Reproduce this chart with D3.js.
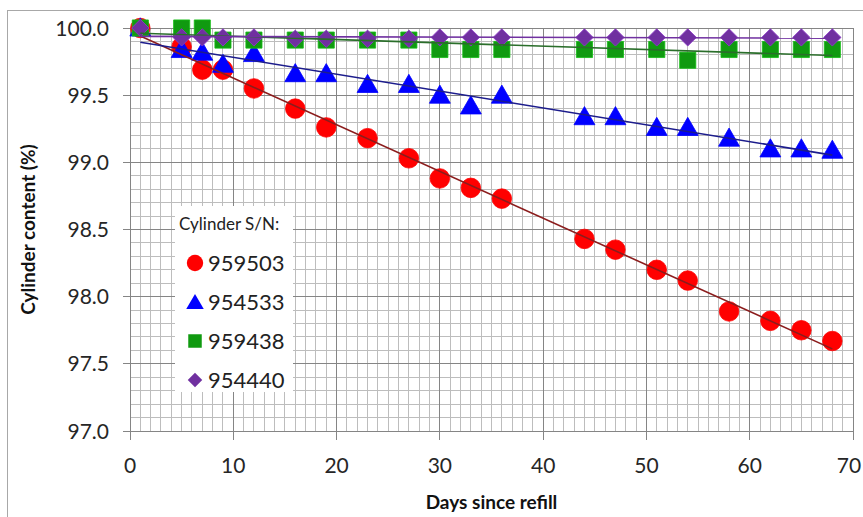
<!DOCTYPE html>
<html>
<head>
<meta charset="utf-8">
<script src="https://cdn.jsdelivr.net/npm/d3@7"></script>
<style>
  html, body { margin: 0; padding: 0; background: #fff; }
  svg { display: block; font-family: Lato, "Open Sans", sans-serif; }
</style>
</head>
<body>
<div id="chart"></div>
<script>
// Days since refill for each reading
const days959503 = [1, 5, 7, 9, 12, 16, 19, 23, 27, 30, 33, 36, 44, 47, 51, 54, 58, 62, 65, 68];
const vals959503 = [100.0, 99.86, 99.69, 99.69, 99.55, 99.40, 99.26, 99.18, 99.03, 98.88, 98.81, 98.73,
                    98.43, 98.35, 98.20, 98.12, 97.89, 97.82, 97.75, 97.67];

const days954533 = [1, 5, 7, 9, 12, 16, 19, 23, 27, 30, 33, 36, 44, 47, 51, 54, 58, 62, 65, 68];
const vals954533 = [100.0, 99.84, 99.82, 99.73, 99.81, 99.66, 99.66, 99.58, 99.58, 99.50, 99.42, 99.50,
                    99.34, 99.34, 99.26, 99.26, 99.18, 99.10, 99.10, 99.09];

const days959438 = [1, 5, 7, 9, 12, 16, 19, 23, 27, 30, 33, 36, 44, 47, 51, 54, 58, 62, 65, 68];
const vals959438 = [100.0, 100.0, 100.0, 99.91, 99.91, 99.91, 99.91, 99.91, 99.91, 99.84, 99.84, 99.84,
                    99.84, 99.84, 99.84, 99.76, 99.84, 99.84, 99.84, 99.84];

const days954440 = [1, 5, 7, 9, 12, 16, 19, 23, 27, 30, 33, 36, 44, 47, 51, 54, 58, 62, 65, 68];
const vals954440 = [100.0, 99.93, 99.93, 99.93, 99.93, 99.92, 99.92, 99.92, 99.92, 99.93, 99.93, 99.93,
                    99.93, 99.93, 99.93, 99.93, 99.93, 99.93, 99.93, 99.93];

const xTicks = [0, 10, 20, 30, 40, 50, 60, 70];
const yTicks = [97.0, 97.5, 98.0, 98.5, 99.0, 99.5, 100.0];

const series = [
  { name: "959503", days: days959503, vals: vals959503, shape: "circle",   fill: "#ff0000", line: "#8b1c1c" },
  { name: "954533", days: days954533, vals: vals954533, shape: "triangle", fill: "#0000ff", line: "#1c1c8c" },
  { name: "959438", days: days959438, vals: vals959438, shape: "square",   fill: "#109a10", line: "#2a6e2a" },
  { name: "954440", days: days954440, vals: vals954440, shape: "diamond",  fill: "#7030a0", line: "#7030a0" }
];

const W = 863, H = 517;
const plot = { left: 130, right: 853, top: 28, bottom: 431 };

const svg = d3.select("#chart").append("svg")
  .attr("width", W).attr("height", H);

// chart frame (only top/left visible)
svg.append("rect")
  .attr("x", 7.5).attr("y", 10.5)
  .attr("width", 900).attr("height", 600)
  .attr("fill", "#fff")
  .attr("stroke", "#a8a8a8");

const x = d3.scaleLinear().domain([0, 70]).range([plot.left, plot.right]);
const y = d3.scaleLinear().domain([97, 100]).range([plot.bottom, plot.top]);

// ---- grid ----
const grid = svg.append("g").attr("shape-rendering", "crispEdges");

grid.selectAll("line.minor-x")
  .data(d3.range(0, 71, 1).filter(d => d % 10 !== 0))
  .join("line")
  .attr("x1", d => x(d)).attr("x2", d => x(d))
  .attr("y1", plot.top).attr("y2", plot.bottom)
  .attr("stroke", "#bdbdbd");

grid.selectAll("line.minor-y")
  .data(d3.range(0, 31, 1).filter(d => d % 5 !== 0).map(d => 97 + d / 10))
  .join("line")
  .attr("x1", plot.left).attr("x2", plot.right)
  .attr("y1", d => y(d)).attr("y2", d => y(d))
  .attr("stroke", "#bdbdbd");

grid.selectAll("line.major-x")
  .data(xTicks)
  .join("line")
  .attr("x1", d => x(d)).attr("x2", d => x(d))
  .attr("y1", plot.top).attr("y2", plot.bottom + 9)
  .attr("stroke", "#858585");

grid.selectAll("line.major-y")
  .data(yTicks)
  .join("line")
  .attr("x1", plot.left - 7).attr("x2", plot.right)
  .attr("y1", d => y(d)).attr("y2", d => y(d))
  .attr("stroke", "#858585");

// ---- tick labels ----
svg.append("g").selectAll("text")
  .data(yTicks)
  .join("text")
  .attr("x", 109)
  .attr("y", d => y(d))
  .attr("dy", "0.36em")
  .attr("text-anchor", "end")
  .attr("font-size", 21)
  .attr("fill", "#262626")
  .text(d => d3.format(".1f")(d));

svg.append("g").selectAll("text")
  .data(xTicks)
  .join("text")
  .attr("x", d => Math.min(x(d), 849))
  .attr("y", 465)
  .attr("dy", "0.36em")
  .attr("text-anchor", "middle")
  .attr("font-size", 21)
  .attr("fill", "#262626")
  .text(d => d);

// axis titles
svg.append("text")
  .attr("x", (plot.left + plot.right) / 2)
  .attr("y", 509)
  .attr("text-anchor", "middle")
  .attr("font-size", 19)
  .attr("font-weight", "bold")
  .attr("fill", "#111")
  .text("Days since refill");

svg.append("text")
  .attr("transform", `translate(35, ${(plot.top + plot.bottom) / 2}) rotate(-90)`)
  .attr("text-anchor", "middle")
  .attr("font-size", 19)
  .attr("font-weight", "bold")
  .attr("fill", "#111")
  .text("Cylinder content (%)");

// ---- markers ----
const symbolType = {
  circle: d3.symbolCircle,
  triangle: d3.symbolTriangle,
  square: d3.symbolSquare,
  diamond: d3.symbolSquare // rotated 45deg below
};
const symbolSize = { circle: 300, triangle: 190, square: 260, diamond: 150 };

function symbolPath(shape, scale = 1) {
  return d3.symbol().type(symbolType[shape]).size(symbolSize[shape] * scale)();
}

function symbolTransform(shape, px, py) {
  if (shape === "triangle") return `translate(${px},${py + 2})`;
  if (shape === "diamond") return `translate(${px},${py}) rotate(45)`;
  return `translate(${px},${py})`;
}

const markerLayer = svg.append("g");
series.forEach(s => {
  const pts = s.days.map((d, i) => ({ d, v: s.vals[i] }));
  markerLayer.append("g").selectAll("path")
    .data(pts)
    .join("path")
    .attr("transform", p => symbolTransform(s.shape, x(p.d), y(p.v)))
    .attr("d", symbolPath(s.shape))
    .attr("fill", s.fill)
    .attr("stroke", d3.color(s.fill).brighter(0.6))
    .attr("stroke-width", 0.8);
});

// ---- linear trendlines (least squares, like Excel) ----
function linReg(xs, ys) {
  const mx = d3.mean(xs), my = d3.mean(ys);
  const sxy = d3.sum(xs, (v, i) => (v - mx) * (ys[i] - my));
  const sxx = d3.sum(xs, v => (v - mx) * (v - mx));
  const b = sxy / sxx;
  return { a: my - b * mx, b };
}

const trendLayer = svg.append("g");
series.forEach(s => {
  const r = linReg(s.days, s.vals);
  const ext = d3.extent(s.days);
  trendLayer.append("line")
    .attr("x1", x(ext[0])).attr("y1", y(r.a + r.b * ext[0]))
    .attr("x2", x(ext[1])).attr("y2", y(r.a + r.b * ext[1]))
    .attr("stroke", s.line)
    .attr("stroke-width", 1.6);
});

// ---- legend ----
const lg = svg.append("g").attr("transform", "translate(175, 206)");
lg.append("rect")
  .attr("width", 118).attr("height", 186)
  .attr("fill", "#fff");

lg.append("text")
  .attr("x", 4).attr("y", 18)
  .attr("dy", "0.36em")
  .attr("font-size", 17)
  .attr("fill", "#222")
  .text("Cylinder S/N:");

const rows = lg.selectAll("g.row")
  .data(series)
  .join("g")
  .attr("class", "row")
  .attr("transform", (d, i) => `translate(0, ${57 + i * 39})`);

rows.append("path")
  .attr("transform", d => symbolTransform(d.shape, 20, 0))
  .attr("d", d => symbolPath(d.shape, 0.7))
  .attr("fill", d => d.fill);

rows.append("text")
  .attr("x", 33)
  .attr("dy", "0.36em")
  .attr("font-size", 22)
  .attr("fill", "#222")
  .text(d => d.name);
</script>
</body>
</html>
